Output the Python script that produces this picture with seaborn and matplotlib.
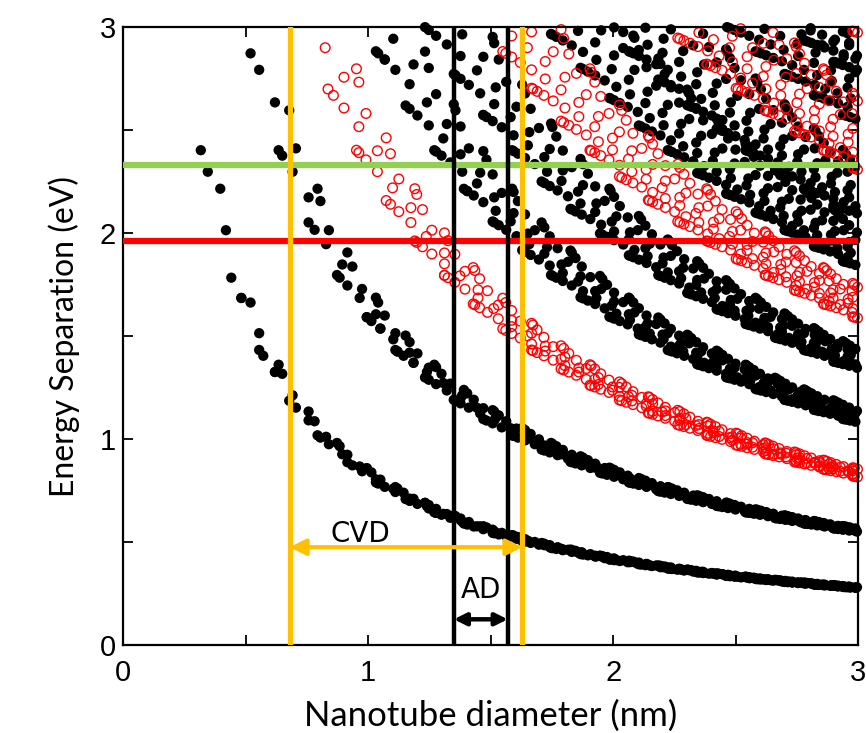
import numpy as np
import pandas as pd
import seaborn as sns
import matplotlib.pyplot as plt
from matplotlib.ticker import MultipleLocator

# tight-binding parameters for the Kataura plot
gamma0 = 2.9      # eV
acc = 0.144       # nm, C-C bond length
n_max = 40        # largest chiral index tried
d_range = (0.25, 3.0)
e_top = 3.0

# marker lines on the plot
cvd_range = [0.68, 1.63]
ad_range = [1.35, 1.57]
laser_green = 2.33
laser_red = 1.96

# transition energies E_ii for every (n, m) from zone folding of graphene
a = np.sqrt(3) * acc
a1 = a * np.array([np.sqrt(3) / 2, 0.5])
a2 = a * np.array([np.sqrt(3) / 2, -0.5])
K = (2 * np.pi / a) * np.array([0.0, 2.0 / 3.0])

rows = []
s = np.linspace(-6, 6, 801)
for n in range(1, n_max + 1):
    for m in range(0, n + 1):
        ch = n * a1 + m * a2
        L = np.linalg.norm(ch)
        d = L / np.pi
        if d < d_range[0] or d > d_range[1]:
            continue
        c_hat = ch / L
        t_hat = np.array([-c_hat[1], c_hat[0]])
        mu0 = (n - m) / 3
        mus = np.floor(mu0) + np.arange(-10, 11)
        kc = 2 * np.pi * mus / L
        ks = K @ t_hat + s
        kx = kc[:, None] * c_hat[0] + ks[None, :] * t_hat[0]
        ky = kc[:, None] * c_hat[1] + ks[None, :] * t_hat[1]
        f = 1 + np.exp(-1j * (kx * a1[0] + ky * a1[1])) + np.exp(-1j * (kx * a2[0] + ky * a2[1]))
        e = 2 * gamma0 * np.abs(f)
        idx = e.argmin(axis=1)
        emin = e.min(axis=1)
        ok = (idx > 0) & (idx < len(s) - 1) & (emin > 0.05) & (emin <= e_top)
        kind = "metal" if (n - m) % 3 == 0 else "semi"
        for val in np.unique(np.round(emin[ok], 4)):
            rows.append((d, val, kind))

df = pd.DataFrame(rows, columns=["diameter", "energy", "kind"])

fig = plt.figure(figsize=(8.66, 7.33), dpi=100)
ax = fig.add_axes([0.142, 0.120, 0.849, 0.843])

semi = df[df.kind == "semi"]
metal = df[df.kind == "metal"]
sns.scatterplot(x=semi.diameter, y=semi.energy, ax=ax, s=55, color="black",
                edgecolor="none", clip_on=False, zorder=2)
sns.scatterplot(x=metal.diameter, y=metal.energy, ax=ax, s=48, clip_on=False, zorder=2)
pc = ax.collections[-1]
pc.set_facecolor("none")
pc.set_edgecolor("red")
pc.set_linewidth(1.0)

# laser lines and diameter windows
ax.axhline(laser_green, color="#92D050", lw=4.5, zorder=3)
ax.axhline(laser_red, color="#FF0000", lw=4.5, zorder=3)
for x in cvd_range:
    ax.axvline(x, color="#FFC000", lw=3.8, zorder=3)
for x in ad_range:
    ax.axvline(x, color="black", lw=3.2, zorder=3)

ax.annotate("", xy=(cvd_range[0], 0.475), xytext=(cvd_range[1], 0.475),
            arrowprops=dict(arrowstyle="<|-|>", color="#FFC000", lw=3,
                            mutation_scale=24, shrinkA=0, shrinkB=0), zorder=4)
ax.text(0.97, 0.50, "CVD", fontsize=20, ha="center", va="baseline", family="DejaVu Sans")
ax.annotate("", xy=(ad_range[0], 0.125), xytext=(ad_range[1], 0.125),
            arrowprops=dict(arrowstyle="<|-|>", color="black", lw=3.2,
                            mutation_scale=18, shrinkA=0, shrinkB=0), zorder=4)
ax.text(sum(ad_range) / 2, 0.23, "AD", fontsize=20, ha="center", va="baseline", family="DejaVu Sans")

ax.set_xlim(0, 3)
ax.set_ylim(0, 3)
ax.xaxis.set_major_locator(MultipleLocator(1))
ax.yaxis.set_major_locator(MultipleLocator(1))
ax.xaxis.set_minor_locator(MultipleLocator(0.5))
ax.yaxis.set_minor_locator(MultipleLocator(0.5))
ax.tick_params(which="both", direction="in", top=True, right=True, width=1.3, length=7)
ax.tick_params(axis="both", labelsize=21)
ax.tick_params(axis="x", pad=10)
ax.tick_params(axis="y", pad=5)
for lab in ax.get_xticklabels() + ax.get_yticklabels():
    lab.set_family("Liberation Sans")
for sp in ax.spines.values():
    sp.set_linewidth(1.6)

ax.set_xlabel("Nanotube diameter (nm)", fontsize=25, family="Lato", labelpad=9)
ax.set_ylabel("Energy Separation (eV)", fontsize=23, family="Lato", labelpad=14)

fig.savefig("out.png", dpi=100)
